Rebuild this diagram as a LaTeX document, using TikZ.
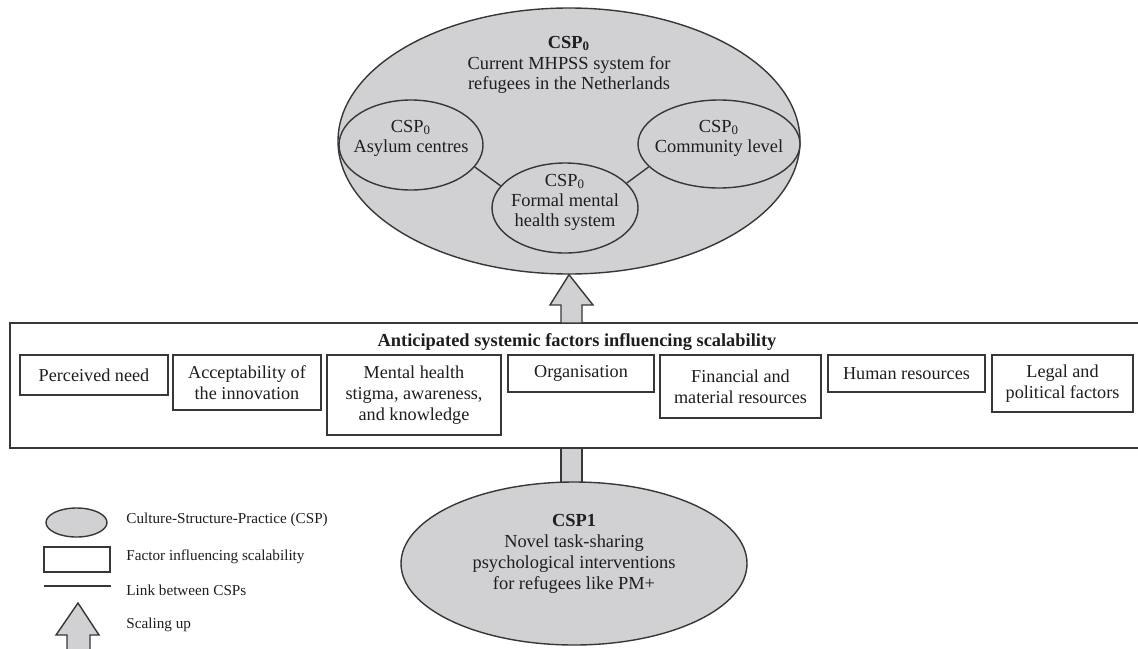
\documentclass[tikz,border=0pt]{standalone}
\usepackage{fontspec}
\setmainfont{Liberation Serif}
\usetikzlibrary{shapes.geometric,calc}
\definecolor{cspgray}{RGB}{209,208,211}
\definecolor{linecol}{RGB}{55,55,55}
\definecolor{txtcol}{RGB}{30,30,30}
\begin{document}
\begin{tikzpicture}[x=0.5pt,y=-0.5pt,
  every node/.style={text=txtcol},
  cspell/.style={ellipse,draw=linecol,fill=cspgray,line width=0.7pt,inner sep=0pt},
  ctext/.style={align=center,inner sep=0pt,font=\fontsize{9.2}{10.4}\selectfont},
  factorbox/.style={draw=linecol,line width=0.8pt,fill=white,align=center,inner sep=2pt,anchor=north,
    font=\fontsize{9.1}{10.5}\selectfont},
  linkline/.style={draw=linecol,line width=0.7pt},
  scaleup/.style={draw=linecol,fill=cspgray,line width=0.7pt,line join=miter},
  legtext/.style={anchor=west,inner sep=0pt,font=\fontsize{7.6}{9}\selectfont}]
\useasboundingbox (0,0) rectangle (1138,648);

% ---- top CSP0 ellipse ----
\node[cspell,minimum width=231pt,minimum height=133pt] (top) at (569,141) {};
\node[ctext] (toptext) at (569,65) {\textbf{CSP\textsubscript{0}}\\Current MHPSS system for\\refugees in the Netherlands};

\node[cspell,minimum width=72pt,minimum height=45pt] (asylum) at (411,145) {};
\node[ctext,font=\fontsize{9.2}{10}\selectfont] (asylumtext) at (411,138) {CSP\textsubscript{0}\\Asylum centres};
\node[cspell,minimum width=81pt,minimum height=44pt] (community) at (719,144) {};
\node[ctext,font=\fontsize{9.2}{10}\selectfont] (communitytext) at (719,138) {CSP\textsubscript{0}\\Community level};
\node[cspell,minimum width=73pt,minimum height=45pt] (formal) at (565,208) {};
\node[ctext,font=\fontsize{9.2}{10}\selectfont] (formaltext) at (565,202) {CSP\textsubscript{0}\\Formal mental\\health system};

\draw[linkline] (asylum.-19) -- (formal.161);
\draw[linkline] (community.-162) -- (formal.22);

% ---- factors band ----
\node[minimum width=564pt,minimum height=62.5pt,inner sep=0pt] (factors) at (574,385.5) {};
\draw[draw=linecol,line width=1pt] (factors.north east) -- (factors.north west) -- (factors.south west) -- (factors.south east);
\node[inner sep=0pt,font=\bfseries\fontsize{9.2}{10.4}\selectfont] (factorstitle) at (577,342) {Anticipated systemic factors influencing scalability};

\node[factorbox,minimum width=74pt,minimum height=20pt] (need) at (94,354) {Perceived need};
\node[factorbox,minimum width=74pt,minimum height=27.5pt] (accept) at (247,354) {Acceptability of\\the innovation};
\node[factorbox,minimum width=87pt,minimum height=40pt] (stigma) at (414,354) {Mental health\\stigma, awareness,\\and knowledge};
\node[factorbox,minimum width=73pt,minimum height=18.5pt] (organ) at (581,354) {Organisation};
\node[factorbox,minimum width=80.5pt,minimum height=31.5pt] (finance) at (740.5,354) {Financial and\\material resources};
\node[factorbox,minimum width=78.5pt,minimum height=18.5pt] (human) at (906.5,354) {Human resources};
\node[factorbox,minimum width=70.5pt,minimum height=28.5pt] (legal) at (1062.5,354) {Legal and\\political factors};

% ---- scaling-up arrow to top ----
\draw[scaleup] (561,323) -- (561,305) -- (550,305) -- (top.south) -- (593,305) -- (582,305) -- (582,323) -- cycle;

% ---- bottom CSP1 ----
\draw[scaleup] (561,448) rectangle (582,486);
\node[cspell,minimum width=173pt,minimum height=81.5pt] (csp1) at (574,563.5) {};
\node[ctext,font=\fontsize{9.2}{10.5}\selectfont] (csp1text) at (574,553.5) {\textbf{CSP1}\\Novel task-sharing\\psychological interventions\\for refugees like PM+};

% ---- legend ----
\node[cspell,minimum width=30.5pt,minimum height=14.5pt] (legell) at (76.5,522.5) {};
\node[draw=linecol,line width=0.8pt,minimum width=33pt,minimum height=12.5pt,inner sep=0pt] (legbox) at (77,559.5) {};
\coordinate (legl1) at (44,586);
\coordinate (legl2) at (111,586);
\draw[linkline] (legl1) -- (legl2);
\coordinate (legtip) at (78,603);
\draw[scaleup] (67,652) -- (67,635) -- (56,635) -- (legtip) -- (99,635) -- (90,635) -- (90,652);
\node[legtext] (lt1) at (126,520) {Culture-Structure-Practice (CSP)};
\node[legtext] (lt2) at (126,557) {Factor influencing scalability};
\node[legtext] (lt3) at (126,590) {Link between CSPs};
\node[legtext] (lt4) at (126,625) {Scaling up};
\end{tikzpicture}
\end{document}
